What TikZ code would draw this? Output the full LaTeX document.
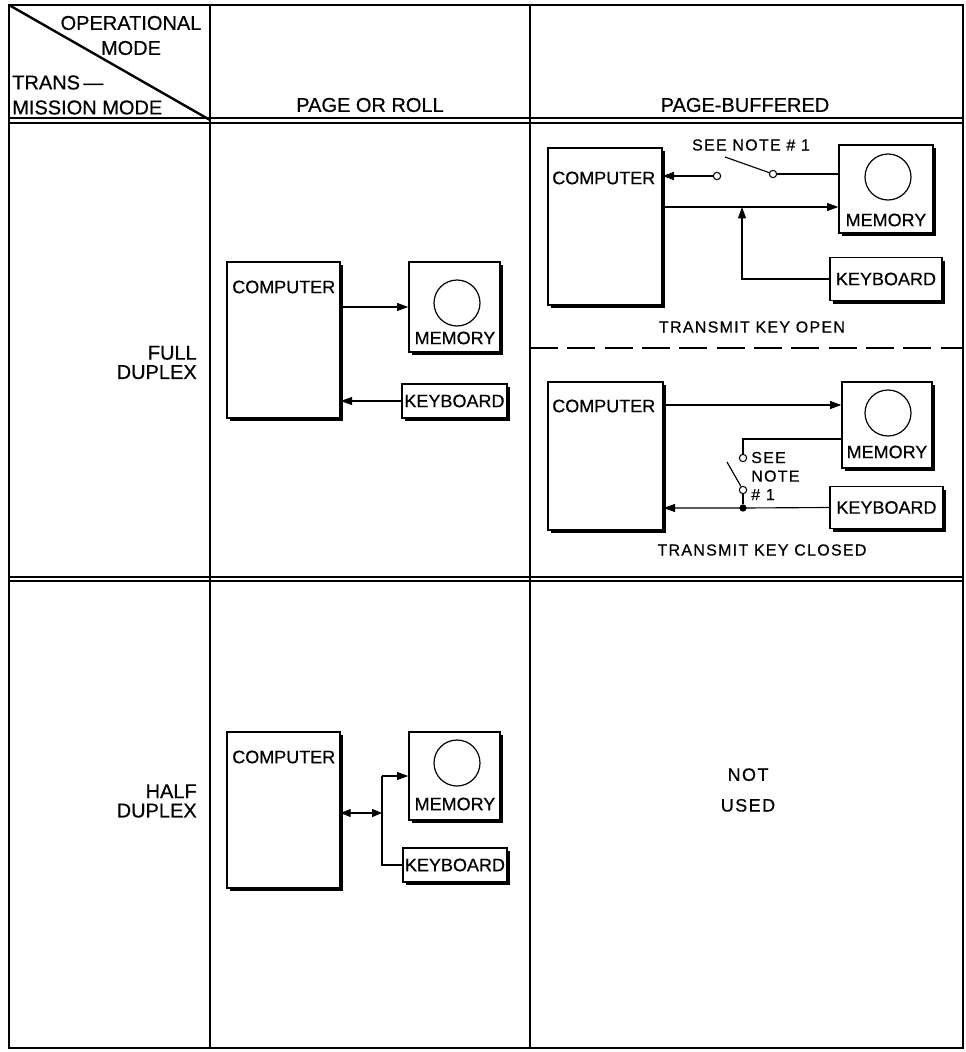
\documentclass[tikz,border=0pt]{standalone}
\usepackage{fontspec}
\setmainfont{Liberation Sans}[FakeBold=0.5]
\newfontfamily\spfont{Liberation Sans}[LetterSpace=8,FakeBold=0.5]
\usetikzlibrary{arrows.meta,shadows,fit}
\begin{document}
\begin{tikzpicture}[x=0.75pt,y=-0.75pt,
  rule/.style={line width=1.5pt},
  box/.style={draw, line width=1pt, fill=white, inner sep=0pt,
    general shadow={fill=black, shadow xshift=2.6pt, shadow yshift=-2.6pt}},
  disc/.style={draw, circle, line width=0.9pt, minimum size=34.5pt, inner sep=0pt},
  hd/.style={font=\fontsize{15}{18.75}\selectfont, inner sep=0pt},
  rl/.style={font=\fontsize{15}{14.5}\selectfont, inner sep=0pt},
  bl/.style={font=\fontsize{13.5}{16}\selectfont, inner sep=0pt},
  sm/.style={font=\spfont\fontsize{12}{13.9}\selectfont, inner sep=0pt},
  wire/.style={line width=0.85pt},
  arr/.style={wire, -{Triangle[length=8.5pt,width=6pt]}},
  dblarr/.style={wire, {Triangle[length=7.5pt,width=6pt]}-{Triangle[length=7.5pt,width=6pt]}},
  term/.style={draw, circle, fill=white, line width=0.8pt, minimum size=5.5pt, inner sep=0pt},
  jdot/.style={fill, circle, minimum size=5.5pt, inner sep=0pt},
  sep/.style={line width=1.1pt, dash pattern=on 21pt off 7pt}
]
\useasboundingbox (0,0) rectangle (965,1052);

% ---------- table ----------
\draw[rule] (9,5) rectangle (963,1048);
\draw[rule] (210,5) -- (210,1048);
\draw[rule] (530,5) -- (530,1048);
\draw[rule] (9,118) -- (963,118);
\draw[rule] (9,123) -- (963,123);
\draw[rule] (9,577) -- (963,577);
\draw[rule] (9,581) -- (963,581);
\draw[line width=1.8pt] (9,5) -- (210,120);

% ---------- headers ----------
\node[hd, align=center] (opm) at (131,35.5) {OPERATIONAL\\MODE};
\node[hd, align=left, anchor=west] (tmm) at (12,95) {TRANS\,—\\MISSION MODE};
\node[hd] (hpr) at (370,105) {PAGE OR ROLL};
\node[hd] (hpb) at (745,105) {PAGE-BUFFERED};
\node[rl, align=right, anchor=east] (fdx) at (197,362.5) {FULL\\DUPLEX};
\node[rl, align=right, anchor=east] (hdx) at (197,801) {HALF\\DUPLEX};

% ---------- page or roll, full duplex ----------
\node[box, fit={(227,262) (340,418)}] (c1) {};
\node[bl, anchor=west] (c1t) at (232,287) {COMPUTER};
\node[box, fit={(409,262) (500,352)}] (m1) {};
\node[disc] (m1c) at (457,303) {};
\node[bl] (m1t) at (455,338) {MEMORY};
\node[box, bl, minimum width=78.75pt, minimum height=25.5pt] (k1) at (454.5,401) {KEYBOARD};
\draw[arr] (c1.east |- m1.west) -- (m1.west);
\draw[arr] (k1.west) -- (c1.east |- k1.west);

% ---------- page or roll, half duplex ----------
\node[box, fit={(227,732) (340,888)}] (c2) {};
\node[bl, anchor=west] (c2t) at (232,757) {COMPUTER};
\node[box, fit={(409,732) (500,820)}] (m2) {};
\node[disc] (m2c) at (457,763) {};
\node[bl] (m2t) at (455,804) {MEMORY};
\node[box, bl, minimum width=78pt, minimum height=25.5pt] (k2) at (455,865) {KEYBOARD};
\coordinate (j2) at (382,813);
\draw[dblarr] (c2.east |- j2) -- (j2);
\draw[arr] (j2 |- m2.west) -- (m2.west);
\draw[wire] (j2 |- m2.west) -- (j2 |- k2.west) -- (k2.west);

% ---------- page buffered, transmit key open ----------
\node[box, fit={(548,148) (662,305)}] (c3) {};
\node[bl, anchor=west] (c3t) at (552,178) {COMPUTER};
\node[box, fit={(839,145) (933,233)}] (m3) {};
\node[disc] (m3c) at (888,177) {};
\node[bl] (m3t) at (886,220) {MEMORY};
\node[box, bl, minimum width=84pt, minimum height=32pt] (k3) at (886,279) {KEYBOARD};
\node[term] (t3a) at (717,176) {};
\node[term] (t3b) at (773,174) {};
\coordinate (b3) at (725,157);
\draw[arr] (t3a) -- (c3.east |- t3a);
\draw[wire] (t3b) -- (m3.west |- t3b);
\draw[wire] (t3b) -- (b3);
\node[sm] (n3) at (751,145) {SEE NOTE \# 1};
\coordinate (j3) at (742,207);
\draw[arr] (c3.east |- j3) -- (m3.west |- j3);
\draw[arr] (k3.west) -- (j3 |- k3.west) -- (j3);
\node[sm] (tko) at (752,327) {TRANSMIT KEY OPEN};

\draw[sep] (530,348) -- (963,348);

% ---------- page buffered, transmit key closed ----------
\node[box, fit={(548,382) (663,530)}] (c4) {};
\node[bl, anchor=west] (c4t) at (552,406) {COMPUTER};
\node[box, fit={(842,382) (932,468)}] (m4) {};
\node[disc] (m4c) at (888,413) {};
\node[bl] (m4t) at (887,452) {MEMORY};
\node[box, bl, minimum width=84.75pt, minimum height=31.5pt] (k4) at (886.5,507.5) {KEYBOARD};
\coordinate (a4) at (700,405);
\draw[arr] (c4.east |- a4) -- (m4.west |- a4);
\node[term] (t4a) at (743,458) {};
\node[term] (t4b) at (743,490) {};
\coordinate (b4) at (727,462);
\coordinate (r4) at (743,439);
\draw[wire] (m4.west |- r4) -- (r4) -- (t4a);
\draw[wire] (t4b) -- (b4);
\node[jdot] (j4) at (743,508) {};
\draw[wire] (t4b) -- (j4);
\draw[arr] (k4.west) -- (j4.center) -- (c4.east |- j4);
\node[sm, align=left, anchor=west] (n4) at (751,476) {SEE\\NOTE\\\# 1};
\node[sm] (tkc) at (762,550) {TRANSMIT KEY CLOSED};

% ---------- page buffered, half duplex ----------
\node[bl, align=center, font=\spfont\fontsize{13.5}{23}\selectfont] (nu) at (748,790) {NOT\\USED};
\end{tikzpicture}
\end{document}
